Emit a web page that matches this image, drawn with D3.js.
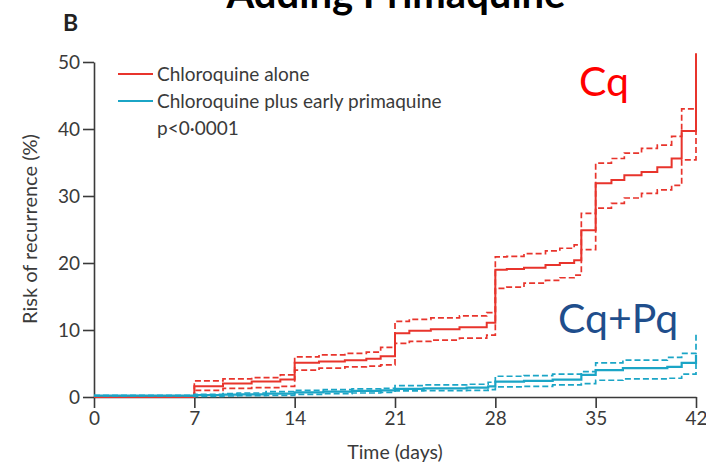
<!DOCTYPE html>
<html>
<head>
<meta charset="utf-8">
<script src="https://cdn.jsdelivr.net/npm/d3@7"></script>
<style>
  body { margin: 0; background: #fff; }
  text { font-family: Lato, "Open Sans", sans-serif; }
</style>
</head>
<body>
<div id="chart"></div>
<script>

const width = 706, height = 466;

// risk of recurrence (%) by day, Kaplan-Meier steps
const redDays   = [0, 7, 9, 11, 13, 14, 15.7, 17.5, 19, 20, 21, 22, 23.5, 25.5, 27.4, 28, 28.8, 30, 31.5, 32.5, 33.5, 34, 35, 36.1, 37, 38.2, 39.3, 40.3, 41, 42];
const redSolid  = [0, 1.6, 2.0, 2.3, 2.6, 5.1, 5.3, 5.5, 5.7, 6.1, 9.5, 9.9, 10.1, 10.4, 11.1, 19.0, 19.1, 19.3, 19.7, 20.0, 20.4, 24.9, 31.9, 32.4, 33.1, 33.6, 34.3, 35.6, 39.7, 51.3];
const redUpper  = [0, 2.4, 2.7, 2.9, 3.3, 6.0, 6.3, 6.5, 6.7, 7.4, 11.3, 11.6, 11.8, 12.1, 12.6, 20.9, 21.0, 21.4, 21.8, 22.2, 22.7, 27.4, 34.9, 35.6, 36.4, 37.1, 37.6, 38.9, 43.0, 43.0];
const redLower  = [0, 1.0, 1.3, 1.4, 1.6, 4.0, 4.3, 4.5, 4.6, 4.8, 8.0, 8.3, 8.5, 8.8, 9.25, 16.2, 16.4, 17.0, 17.4, 17.8, 18.2, 22.0, 28.2, 28.9, 29.7, 30.4, 30.9, 31.6, 35.4, 43.0];

const cyanDays  = [0, 7, 9, 10, 12, 14, 16, 18, 20, 21, 23, 26, 27.5, 28, 30, 32, 34, 35, 36.9, 40, 41, 42];
const cyanSolid = [0.2, 0.3, 0.35, 0.4, 0.5, 0.7, 0.8, 0.9, 1.0, 1.2, 1.3, 1.4, 1.6, 2.3, 2.4, 2.6, 3.3, 4.0, 4.3, 4.5, 5.1, 6.3];
const cyanUpper = [0.2, 0.4, 0.5, 0.6, 0.8, 1.0, 1.1, 1.2, 1.3, 1.7, 1.8, 1.9, 2.2, 3.1, 3.2, 3.4, 3.8, 5.1, 5.5, 5.9, 6.5, 9.3];
const cyanLower = [0.2, 0.1, 0.15, 0.2, 0.25, 0.4, 0.5, 0.6, 0.7, 0.9, 0.95, 1.0, 1.1, 1.5, 1.6, 1.8, 2.0, 2.5, 2.7, 2.8, 3.4, 5.0];

const xTicks = [0, 7, 14, 21, 28, 35, 42];
const yTicks = [0, 10, 20, 30, 40, 50];

const legendLabels = ["Chloroquine alone", "Chloroquine plus early primaquine"];
const pText = "p<0·0001";

const RED = "#e8342c", CYAN = "#1ba5c6", AXIS = "#3a3a3a";

let svg = d3.select("#chart")
	.append("svg")
	.attr("width", width)
	.attr("height", height);

let x = d3.scaleLinear().domain([0, 42]).range([94, 696]);
let y = d3.scaleLinear().domain([0, 50]).range([397, 62]);

// title, cut off by the top edge in the original slide
svg.append("text")
	.attr("x", 396)
	.attr("y", 8)
	.attr("text-anchor", "middle")
	.style("font-size", "40px")
	.style("font-weight", "bold")
	.style("fill", "#000")
	.text("Adding Primaquine");

svg.append("text")
	.attr("x", 63)
	.attr("y", 31)
	.style("font-size", "23px")
	.style("font-weight", "bold")
	.style("fill", "#222")
	.text("B");

// AXES
let gx = svg.append("g")
	.attr("transform", "translate(0," + y(0) + ")")
	.call(d3.axisBottom(x).tickValues(xTicks).tickSize(11).tickPadding(4).tickSizeOuter(0));

let gy = svg.append("g")
	.attr("transform", "translate(" + x(0) + ",0)")
	.call(d3.axisLeft(y).tickValues(yTicks).tickSize(11).tickPadding(3).tickSizeOuter(0));

[gx, gy].forEach(g => {
	g.select(".domain").style("stroke", AXIS).style("stroke-width", 1.6);
	g.selectAll(".tick line").style("stroke", AXIS).style("stroke-width", 1.6);
	g.selectAll(".tick text")
		.style("font-family", "Lato, sans-serif")
		.style("font-size", "19px")
		.style("fill", AXIS);
});

svg.append("text")
	.attr("x", 395)
	.attr("y", 459)
	.attr("text-anchor", "middle")
	.style("font-size", "19.5px")
	.style("fill", AXIS)
	.text("Time (days)");

svg.append("text")
	.attr("transform", "translate(37,229) rotate(-90)")
	.attr("text-anchor", "middle")
	.style("font-size", "20px")
	.style("fill", AXIS)
	.text("Risk of recurrence (%)");

// CURVES
function drawStep(days, vals, color, dashed, w) {
	let line = d3.line()
		.x((d, i) => x(days[i]))
		.y(d => y(d))
		.curve(d3.curveStepAfter);
	svg.append("path")
		.datum(vals)
		.attr("d", line)
		.style("fill", "none")
		.style("stroke", color)
		.style("stroke-width", w)
		.style("stroke-dasharray", dashed ? "6,3" : null);
}

drawStep(redDays, redUpper, RED, true, 1.7);
drawStep(redDays, redLower, RED, true, 1.7);
drawStep(redDays, redSolid, RED, false, 2);

drawStep(cyanDays, cyanUpper, CYAN, true, 1.7);
drawStep(cyanDays, cyanLower, CYAN, true, 1.7);
drawStep(cyanDays, cyanSolid, CYAN, false, 2.2);

// LEGEND
let legend = svg.append("g");
[RED, CYAN].forEach((c, i) => {
	legend.append("line")
		.attr("x1", 118).attr("x2", 153)
		.attr("y1", 74 + i * 27).attr("y2", 74 + i * 27)
		.style("stroke", c)
		.style("stroke-width", 2);
	legend.append("text")
		.attr("x", 157)
		.attr("y", 81 + i * 27)
		.style("font-size", "19px")
		.style("fill", AXIS)
		.text(legendLabels[i]);
});
legend.append("text")
	.attr("x", 157)
	.attr("y", 135)
	.style("font-size", "19px")
	.style("fill", AXIS)
	.text(pText);

// annotations
svg.append("text")
	.attr("x", 579)
	.attr("y", 96)
	.style("font-size", "41px")
	.style("fill", "#ff0000")
	.text("Cq");

svg.append("text")
	.attr("x", 558)
	.attr("y", 333)
	.style("font-size", "41px")
	.style("fill", "#1f4e8c")
	.text("Cq+Pq");

</script>
</body>
</html>
